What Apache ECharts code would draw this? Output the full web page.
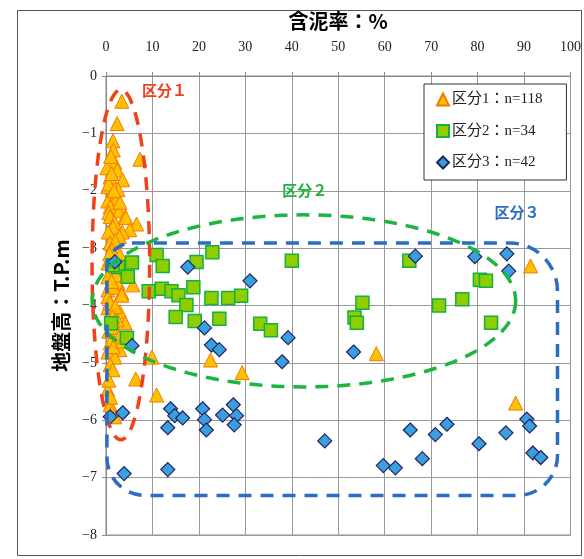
<!DOCTYPE html>
<html>
<head>
<meta charset="utf-8">
<script src="https://cdn.jsdelivr.net/npm/echarts@6/dist/echarts.min.js"></script>
<style>
html,body{margin:0;padding:0;background:#fff}
#chart{width:584px;height:559px}
</style>
</head>
<body>
<div id="chart"></div>
<script>
// 含泥率 (%) vs 地盤高 (T.P.m), three groups
const xTicks = [0, 10, 20, 30, 40, 50, 60, 70, 80, 90, 100];
const yTicks = [0, -1, -2, -3, -4, -5, -6, -7, -8];

const seriesNames = ['区分1：n=118', '区分2：n=34', '区分3：n=42'];

// 区分1
const group1 = [
  [3.4,-0.44],[2.4,-0.83],[7.3,-1.45],[1.5,-1.13],[1.6,-1.29],[1.9,-1.51],[0.2,-1.60],[2.4,-1.64],
  [0.9,-1.76],[3.6,-1.81],[0.4,-1.93],[2.6,-1.98],[1.3,-2.05],[0.6,-1.88],[2.2,-2.15],[0.4,-2.18],
  [0.9,-2.28],[2.8,-2.35],[0.6,-2.38],[4.1,-2.45],[0.9,-2.45],[4.3,-2.47],[1.8,-2.55],[6.6,-2.58],
  [1.5,-2.63],[5.1,-2.68],[0.5,-2.72],[3.5,-2.72],[2.9,-2.80],[0.9,-2.91],[2.0,-2.88],[1.0,-1.40],
  [1.2,-1.70],[3.0,-2.20],[1.7,-2.00],
  [1.3,-3.03],[3.0,-3.12],[0.4,-3.26],[1.9,-3.38],[0.4,-3.50],[2.6,-3.61],[5.8,-3.64],[0.4,-3.73],
  [3.4,-3.78],[1.0,-3.20],[2.2,-3.47],[1.5,-3.68],[0.8,-3.10],[2.8,-3.30],[1.2,-3.58],
  [0.4,-3.85],[3.4,-3.82],[0.4,-4.04],[3.0,-4.11],[4.1,-4.30],[0.9,-4.65],[3.0,-4.77],[0.4,-4.81],
  [1.9,-4.90],[0.9,-5.03],[1.5,-5.12],[0.6,-4.45],[2.4,-4.25],[1.2,-4.38],[2.8,-4.55],[1.6,-4.72],
  [3.6,-4.62],[0.8,-3.95],[2.0,-4.02],[1.4,-4.20],[9.9,-4.90],[6.4,-5.28],[10.9,-5.56],[0.4,-5.47],
  [0.9,-5.73],[1.3,-5.87],[1.9,-5.94],[22.5,-4.95],[29.3,-5.17],[58.2,-4.84],[91.4,-3.31],[88.2,-5.70],
  [0.6,-5.30],[1.0,-5.60]
];

// 区分2
const group2 = [
  [10.9,-3.12],[12.2,-3.31],[19.5,-3.24],[22.9,-3.07],[9.2,-3.75],[12.0,-3.71],[14.1,-3.75],[15.6,-3.82],
  [18.8,-3.68],[17.3,-3.99],[22.7,-3.87],[26.3,-3.87],[29.1,-3.83],[15.0,-4.20],[19.1,-4.27],[24.4,-4.23],
  [33.2,-4.32],[35.5,-4.43],[40.0,-3.22],[55.2,-3.95],[53.5,-4.21],[54.0,-4.30],[65.3,-3.22],[80.5,-3.55],
  [81.8,-3.57],[76.7,-3.89],[71.7,-4.00],[82.9,-4.30],[5.6,-3.25],[2.6,-3.33],[4.7,-3.50],[1.1,-4.31],
  [4.5,-4.56],[1.4,-3.30]
];

// 区分3
const group3 = [
  [17.6,-3.33],[31.0,-3.57],[21.2,-4.39],[22.7,-4.69],[24.4,-4.77],[37.9,-4.98],[39.2,-4.56],
  [53.3,-4.81],[66.6,-3.14],[79.4,-3.15],[86.3,-3.10],[86.7,-3.40],
  [1.9,-3.24],[5.6,-4.70],[0.9,-5.94],[3.6,-5.87],
  [13.9,-5.80],[14.8,-5.92],[16.5,-5.96],[13.3,-6.13],[20.8,-5.80],[21.2,-5.99],[21.6,-6.17],
  [25.1,-5.91],[27.4,-5.73],[28.1,-5.92],[27.6,-6.08],[3.9,-6.93],[13.3,-6.86],
  [47.1,-6.36],[59.7,-6.79],[62.3,-6.83],[65.5,-6.17],[68.1,-6.67],[70.9,-6.25],[73.4,-6.07],
  [80.3,-6.41],[86.1,-6.22],[90.6,-5.98],[91.2,-6.10],[91.9,-6.57],[93.6,-6.65]
];

// Group outlines in data units: ellipses [cx, cy, rx, ry], box [x0, y0, x1, y1]
const outline1 = [3.2, -3.29, 6.2, 3.05];
const outline2 = [42.6, -3.92, 45.6, 1.5];
const outline3 = [0.2, -2.91, 97.2, -7.31];
const groupLabels = ['区分１', '区分２', '区分３'];
const groupLabelPos = [[12.6, -0.25], [42.8, -2.0], [88.5, -2.38]];

const serif = "'Liberation Serif','Noto Sans CJK JP',serif";
const colRed = '#f0401c', colGreen = '#1db440', colBlue = '#2b6cc4';

const chart = echarts.init(document.getElementById('chart'), null, {renderer: 'canvas'});

chart.setOption({
  animation: false,
  backgroundColor: '#fff',
  grid: {left: 106, top: 76, right: 11, bottom: 24, show: true, borderColor: '#888', borderWidth: 1},
  xAxis: {
    type: 'value', position: 'top', min: xTicks[0], max: xTicks[xTicks.length - 1], interval: 10,
    name: '含泥率：%', nameLocation: 'middle', nameGap: 45,
    nameTextStyle: {fontFamily: "'Noto Sans CJK JP',sans-serif", fontWeight: 'bold', fontSize: 20, color: '#000'},
    axisLine: {show: true, lineStyle: {color: '#888'}},
    axisTick: {show: true, length: 4, lineStyle: {color: '#888'}},
    axisLabel: {fontFamily: serif, fontSize: 14, color: '#222', margin: 22},
    splitLine: {show: true, lineStyle: {color: '#999', width: 1}}
  },
  yAxis: {
    type: 'value', min: yTicks[yTicks.length - 1], max: yTicks[0], interval: 1,
    name: '地盤高：T.P.m', nameLocation: 'middle', nameGap: 34, nameRotate: 90,
    nameTextStyle: {fontFamily: "'Noto Sans CJK JP',sans-serif", fontWeight: 'bold', fontSize: 20, color: '#000'},
    axisLine: {show: true, lineStyle: {color: '#888'}},
    axisTick: {show: true, length: 4, lineStyle: {color: '#888'}},
    axisLabel: {fontFamily: serif, fontSize: 14, color: '#222', margin: 9,
      formatter: v => String(v).replace('-', '\u2212')},
    splitLine: {show: true, lineStyle: {color: '#999', width: 1}}
  },
  legend: {
    orient: 'vertical', left: 424, top: 84,
    padding: [8, 24, 10, 12], itemGap: 16.5, itemWidth: 12, itemHeight: 12,
    backgroundColor: '#fff', borderColor: '#333', borderWidth: 1, borderRadius: 0,
    textStyle: {fontFamily: serif, fontSize: 15, color: '#222', padding: [0, 0, 0, -2]},
    data: [
      {name: seriesNames[0], icon: 'triangle'},
      {name: seriesNames[1], icon: 'rect'},
      {name: seriesNames[2], icon: 'diamond'}
    ]
  },
  series: [
    {name: seriesNames[0], type: 'scatter', symbol: 'triangle', symbolSize: 14, data: group1,
     itemStyle: {color: '#ffc000', borderColor: '#f07a00', borderWidth: 1, opacity: 1}},
    {name: seriesNames[1], type: 'scatter', symbol: 'rect', symbolSize: 13, data: group2,
     itemStyle: {color: '#8fcc00', borderColor: '#12b040', borderWidth: 1.5, opacity: 1}},
    {name: seriesNames[2], type: 'scatter', symbol: 'diamond', symbolSize: 14, data: group3,
     itemStyle: {color: '#3a9fdc', borderColor: '#1f2466', borderWidth: 1.2, opacity: 1}}
  ]
});

// Dashed outlines and group labels, placed through the axis scales
function px(pt) { return chart.convertToPixel({gridIndex: 0}, pt); }
function ellipsePoints(e) {
  const c = px([e[0], e[1]]);
  const r = px([e[0] + e[2], e[1] - e[3]]);
  const rx = r[0] - c[0], ry = r[1] - c[1];
  const pts = [];
  for (let k = 0; k < 120; k++) {
    const a = k / 120 * Math.PI * 2;
    pts.push([c[0] + rx * Math.cos(a), c[1] + ry * Math.sin(a)]);
  }
  return pts;
}
const dash = [13, 9];
const tl = px([outline3[0], outline3[1]]);
const br = px([outline3[2], outline3[3]]);
const graphics = [
  {type: 'rect', left: 15, top: 8, z: 0, silent: true,
   shape: {width: 564, height: 545}, style: {fill: null, stroke: '#555', lineWidth: 1}},
  {type: 'polygon', z: 100, silent: true, shape: {points: ellipsePoints(outline1)},
   style: {fill: null, stroke: colRed, lineWidth: 3.5, lineDash: dash}},
  {type: 'polygon', z: 100, silent: true, shape: {points: ellipsePoints(outline2)},
   style: {fill: null, stroke: colGreen, lineWidth: 3.5, lineDash: dash}},
  {type: 'rect', z: 100, silent: true,
   shape: {x: tl[0], y: tl[1], width: br[0] - tl[0], height: br[1] - tl[1], r: [25, 48, 40, 38]},
   style: {fill: null, stroke: colBlue, lineWidth: 3.5, lineDash: dash}}
];
const labelColors = [colRed, colGreen, colBlue];
groupLabels.forEach((t, i) => {
  const p = px(groupLabelPos[i]);
  graphics.push({type: 'text', z: 101, silent: true, x: p[0], y: p[1],
    style: {text: t, fill: labelColors[i], font: "bold 15px 'Noto Sans CJK JP',sans-serif",
      textAlign: 'center', textVerticalAlign: 'middle'}});
});
chart.setOption({graphic: graphics});
</script>
</body>
</html>
